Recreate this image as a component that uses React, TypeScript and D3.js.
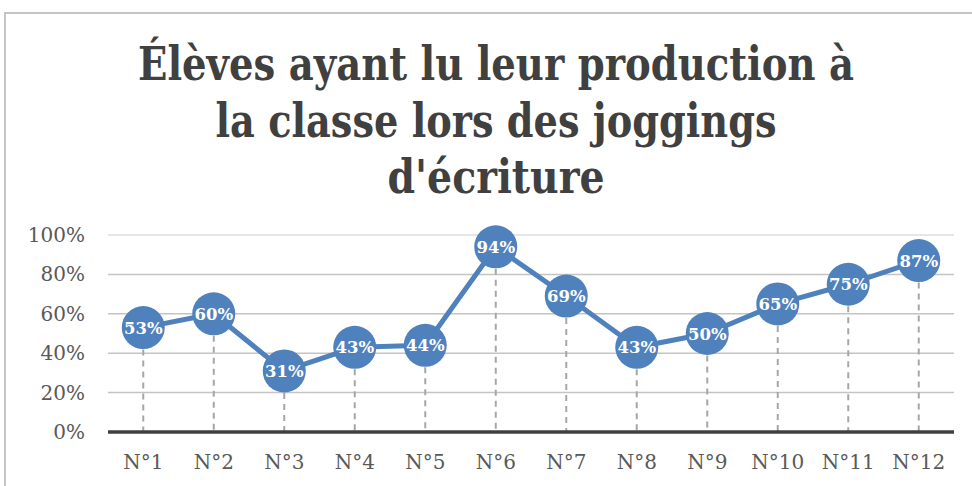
import * as d3 from "d3";
import { useEffect, useRef } from "react";

const categories: string[] = ["N°1", "N°2", "N°3", "N°4", "N°5", "N°6", "N°7", "N°8", "N°9", "N°10", "N°11", "N°12"];
const values: number[] = [53, 60, 31, 43, 44, 94, 69, 43, 50, 65, 75, 87];
const yTicks: number[] = [0, 20, 40, 60, 80, 100];
const titleLines: string[] = ["Élèves ayant lu leur production à", "la classe lors des joggings", "d'écriture"];

const App = () => {
    const ref = useRef<SVGSVGElement | null>(null);

    useEffect(() => {
        const svg = d3.select(ref.current);
        svg.selectAll("*").remove();

        const width = 972;
        const left = 108, right = 954, top = 235, bottom = 432;

        // frame of the chart area
        svg.append("path")
            .attr("d", `M5,${486} L5,13 L${width},13`)
            .attr("fill", "none")
            .attr("stroke", "#c4c4c4")
            .attr("stroke-width", 2);

        // title
        const titleWidths = [716, 561, 217];
        const titleY = [80, 137, 193];
        svg.append("g")
            .selectAll("text")
            .data(titleLines)
            .join("text")
            .attr("x", 496)
            .attr("y", (d, i) => titleY[i])
            .attr("text-anchor", "middle")
            .attr("font-family", "DejaVu Serif")
            .attr("font-weight", "bold")
            .attr("font-size", 46)
            .attr("fill", "#404040")
            .attr("textLength", (d, i) => titleWidths[i])
            .attr("lengthAdjust", "spacingAndGlyphs")
            .text((d) => d);

        const xScale = d3.scaleBand().domain(categories).range([left, right]);
        const yScale = d3.scaleLinear().domain([0, 100]).range([bottom, top]);
        const cx = (c: string) => (xScale(c) as number) + xScale.bandwidth() / 2;

        // gridlines
        svg.append("g")
            .selectAll("line")
            .data(yTicks.filter((t) => t > 0))
            .join("line")
            .attr("x1", left)
            .attr("x2", right)
            .attr("y1", (d) => yScale(d))
            .attr("y2", (d) => yScale(d))
            .attr("stroke", (d) => (d === 100 ? "#dedede" : "#c4c4c4"))
            .attr("stroke-width", 1.5);

        // y labels
        svg.append("g")
            .selectAll("text")
            .data(yTicks)
            .join("text")
            .attr("x", 85)
            .attr("y", (d) => yScale(d) + 7)
            .attr("text-anchor", "end")
            .attr("font-family", "DejaVu Serif")
            .attr("font-size", 20)
            .attr("fill", "#595959")
            .text((d) => d + "%");

        // x labels
        svg.append("g")
            .selectAll("text")
            .data(categories)
            .join("text")
            .attr("x", (d) => cx(d))
            .attr("y", 469)
            .attr("text-anchor", "middle")
            .attr("font-family", "DejaVu Serif")
            .attr("font-size", 20)
            .attr("fill", "#595959")
            .text((d) => d);

        // drop lines
        svg.append("g")
            .selectAll("line")
            .data(values)
            .join("line")
            .attr("x1", (d, i) => cx(categories[i]))
            .attr("x2", (d, i) => cx(categories[i]))
            .attr("y1", (d) => yScale(d))
            .attr("y2", bottom)
            .attr("stroke", "#a6a6a6")
            .attr("stroke-width", 2)
            .attr("stroke-dasharray", "6,5");

        // axis line
        svg.append("line")
            .attr("x1", left)
            .attr("x2", right)
            .attr("y1", bottom)
            .attr("y2", bottom)
            .attr("stroke", "#404040")
            .attr("stroke-width", 3.5);

        const line = d3.line<number>()
            .x((d, i) => cx(categories[i]))
            .y((d) => yScale(d));

        svg.append("path")
            .datum(values)
            .attr("d", line)
            .attr("fill", "none")
            .attr("stroke", "#4f81bd")
            .attr("stroke-width", 5)
            .attr("stroke-linejoin", "round");

        svg.append("g")
            .selectAll("circle")
            .data(values)
            .join("circle")
            .attr("cx", (d, i) => cx(categories[i]))
            .attr("cy", (d) => yScale(d))
            .attr("r", 21.5)
            .attr("fill", "#4f81bd");

        svg.append("g")
            .selectAll("text")
            .data(values)
            .join("text")
            .attr("x", (d, i) => cx(categories[i]))
            .attr("y", (d) => yScale(d) + 6)
            .attr("text-anchor", "middle")
            .attr("font-family", "DejaVu Serif")
            .attr("font-weight", "bold")
            .attr("font-size", 16.5)
            .attr("fill", "#ffffff")
            .text((d) => d + "%");
    }, []);

    return (
        <svg
            ref={ref}
            width={972}
            height={486}
            style={{ position: "absolute", left: 0, top: 0, background: "#ffffff" }}
        />
    );
};

export default App;
